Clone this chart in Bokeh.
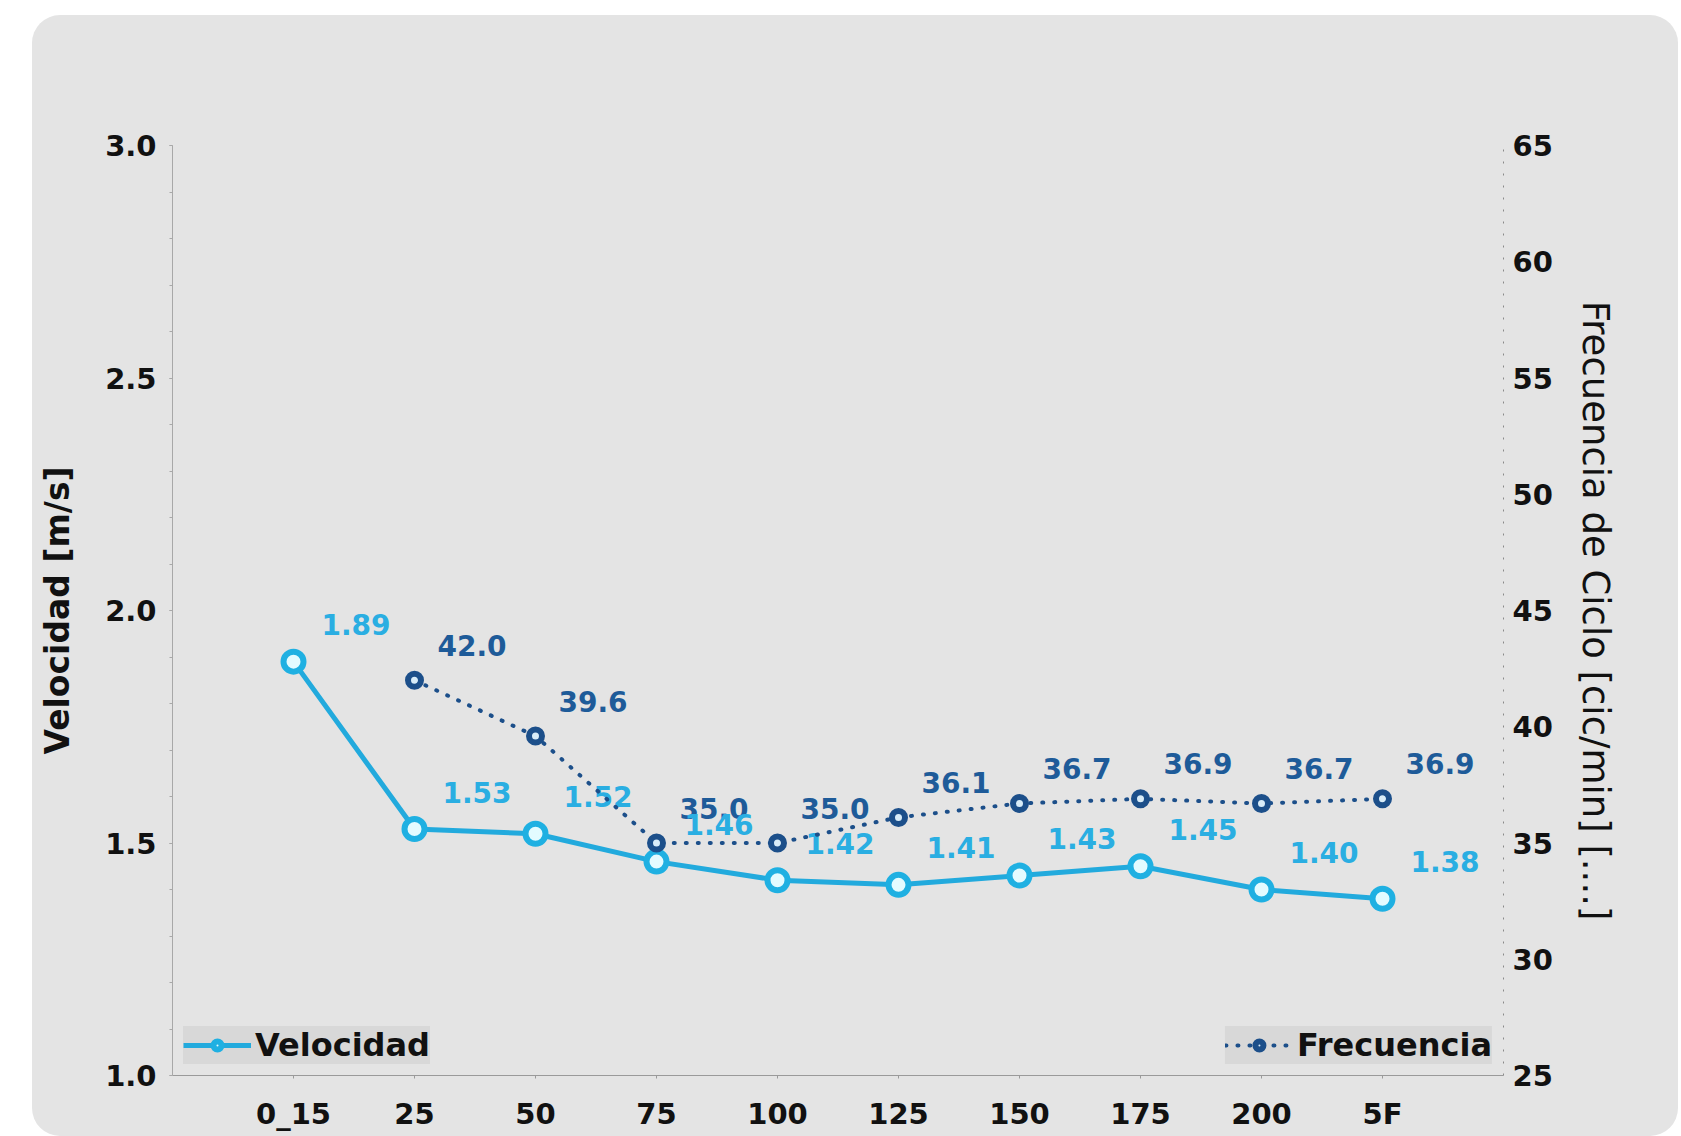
import math
from bokeh.plotting import figure
from bokeh.models import (Range1d, LinearAxis, FixedTicker, PrintfTickFormatter,
                          Legend, LegendItem, ColumnDataSource)
from bokeh.core.properties import value
from bokeh.embed import file_html
from bokeh.resources import INLINE

# ---------------- data ----------------
categories = ["0_15", "25", "50", "75", "100", "125", "150", "175", "200", "5F"]
velocidad = [1.89, 1.53, 1.52, 1.46, 1.42, 1.41, 1.43, 1.45, 1.40, 1.38]
frecuencia = [None, 42.0, 39.6, 35.0, 35.0, 36.1, 36.7, 36.9, 36.7, 36.9]
vel_ticks = [1.0, 1.5, 2.0, 2.5, 3.0]
frec_ticks = [25, 30, 35, 40, 45, 50, 55, 60, 65]

FONT = "DejaVu Sans"
V_COLOR = "#22aadd"
V_TEXT = "#2aaee2"
F_COLOR = "#1c4f8a"
F_TEXT = "#1e5b99"

x = list(range(1, len(categories) + 1))
f_y = [math.nan if v is None else v for v in frecuencia]

v_src = ColumnDataSource(dict(x=x, y=velocidad, lab=[f"{v:.2f}" for v in velocidad]))
f_src = ColumnDataSource(dict(x=x, y=f_y))
f_lab_src = ColumnDataSource(dict(
    x=[xi for xi, v in zip(x, frecuencia) if v is not None],
    y=[v for v in frecuencia if v is not None],
    lab=[f"{v:.1f}" for v in frecuencia if v is not None]))

p = figure(width=1646, height=1121,
           x_range=Range1d(0, len(categories) + 1), y_range=Range1d(1.0, 3.0),
           output_backend="svg", toolbar_location=None,
           min_border_left=140, min_border_right=175, min_border_top=130, min_border_bottom=61,
           border_fill_color=None, background_fill_color="#e4e4e4", outline_line_color=None,
           margin=(15, 0, 0, 32),
           styles={"background-color": "#e4e4e4", "border-radius": "28px", "overflow": "hidden"})
p.grid.visible = False
p.extra_y_ranges = {"frec": Range1d(25, 65)}

# x axis
xa = p.xaxis[0]
xa.ticker = FixedTicker(ticks=x)
xa.major_label_overrides = {xi: c for xi, c in zip(x, categories)}
xa.axis_line_color = "#9a9a9a"
xa.major_tick_line_color = "#9a9a9a"
xa.major_tick_out = 3
xa.major_tick_in = 0
xa.minor_tick_line_color = None
xa.major_label_standoff = 18
xa.major_label_text_font = FONT
xa.major_label_text_font_style = "bold"
xa.major_label_text_font_size = "29px"
xa.major_label_text_color = "#111111"

# left axis
ya = p.yaxis[0]
ya.ticker = FixedTicker(ticks=vel_ticks, minor_ticks=[round(1.0 + 0.1 * i, 1) for i in range(21)])
ya.formatter = PrintfTickFormatter(format="%.1f")
ya.axis_line_color = "#a8a8a8"
ya.major_tick_line_color = "#a8a8a8"
ya.minor_tick_line_color = "#a8a8a8"
ya.major_tick_out = 3
ya.major_tick_in = 0
ya.minor_tick_out = 3
ya.minor_tick_in = 0
ya.major_label_standoff = 13
ya.major_label_text_font = FONT
ya.major_label_text_font_style = "bold"
ya.major_label_text_font_size = "29px"
ya.major_label_text_color = "#111111"
ya.axis_label = "Velocidad [m/s]"
ya.axis_label_text_font = FONT
ya.axis_label_text_font_style = "bold"
ya.axis_label_text_font_size = "33px"
ya.axis_label_text_color = "#111111"
ya.axis_label_standoff = 25

# right axis
ra = LinearAxis(y_range_name="frec", ticker=FixedTicker(ticks=frec_ticks),
                formatter=PrintfTickFormatter(format="%d"))
ra.axis_line_color = "#8a8a8a"
ra.axis_line_dash = "2 10"
ra.major_tick_line_color = None
ra.minor_tick_line_color = None
ra.major_tick_out = 0
ra.major_tick_in = 0
ra.minor_tick_out = 0
ra.minor_tick_in = 0
ra.major_label_standoff = 9
ra.major_label_text_font = FONT
ra.major_label_text_font_style = "bold"
ra.major_label_text_font_size = "29px"
ra.major_label_text_color = "#111111"
ra.axis_label = "Frecuencia de Ciclo [cic/min] [....]"
ra.axis_label_text_font = FONT
ra.axis_label_text_font_style = "normal"
ra.axis_label_text_font_size = "37px"
ra.axis_label_text_color = "#111111"
ra.axis_label_standoff = 18
p.add_layout(ra, "right")

# series
v_line = p.line("x", "y", source=v_src, line_color=V_COLOR, line_width=5)
v_pts = p.scatter("x", "y", source=v_src, size=20, marker="circle",
                  fill_color="#e3fbff", line_color="#1fb0e2", line_width=6)

p.text("x", "y", text="lab", source=f_lab_src, y_range_name="frec",
       x_offset=23, y_offset=-35, text_align="left", text_baseline="alphabetic",
       text_font=value(FONT), text_font_style="bold", text_font_size="28px",
       text_color=F_TEXT)
p.text("x", "y", text="lab", source=v_src,
       x_offset=28, y_offset=-37, text_align="left", text_baseline="alphabetic",
       text_font=value(FONT), text_font_style="bold", text_font_size="28px",
       text_color=V_TEXT)

f_line = p.line("x", "y", source=f_src, y_range_name="frec", line_color=F_COLOR,
                line_width=4, line_dash="1 11", line_cap="round")
f_pts = p.scatter("x", "y", source=f_src, y_range_name="frec", size=13, marker="circle",
                  fill_color="#d8ecf8", line_color=F_COLOR, line_width=6)

def make_legend(item, loc):
    lg = Legend(items=[item], location=loc, margin=11, padding=3, spacing=0,
                glyph_width=68, glyph_height=20, label_standoff=4,
                label_text_font=FONT, label_text_font_style="bold",
                label_text_font_size="32px", label_text_color="#111111",
                background_fill_color="#d8d8d8", background_fill_alpha=1.0,
                border_line_color=None)
    return lg

p.add_layout(make_legend(LegendItem(label="Velocidad", renderers=[v_line, v_pts]), "bottom_left"))
p.add_layout(make_legend(LegendItem(label="Frecuencia", renderers=[f_line, f_pts]), "bottom_right"))

open("out.html", "w").write(file_html(p, INLINE))
